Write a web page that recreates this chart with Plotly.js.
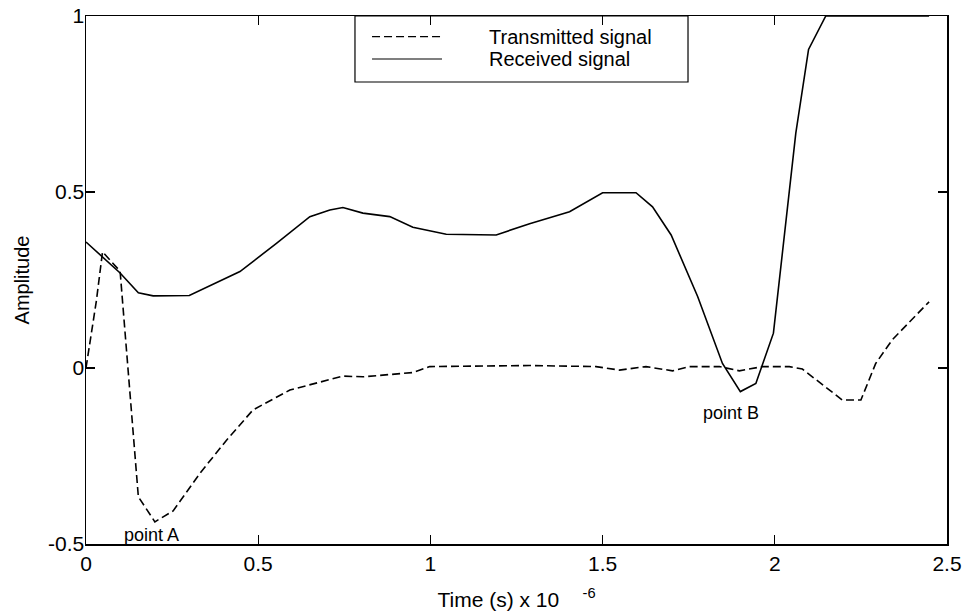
<!DOCTYPE html>
<html>
<head>
<meta charset="utf-8">
<script src="https://cdn.plot.ly/plotly-3.0.1.min.js"></script>
<style>html,body{margin:0;padding:0;background:#fff;}#chart{width:965px;height:614px;}</style>
</head>
<body>
<div id="chart"></div>
<script>
// Time axis values (x 10^-6 s)
var receivedTime = [0, 0.099, 0.152, 0.195, 0.30, 0.447, 0.553, 0.65, 0.708, 0.746, 0.804, 0.882, 0.949, 1.046, 1.191, 1.288, 1.404, 1.50, 1.597, 1.645, 1.699, 1.776, 1.848, 1.90, 1.945, 1.996, 2.061, 2.098, 2.148, 2.448];
var receivedAmp  = [0.358, 0.27, 0.214, 0.205, 0.206, 0.274, 0.354, 0.43, 0.449, 0.456, 0.44, 0.43, 0.40, 0.38, 0.378, 0.41, 0.444, 0.498, 0.498, 0.458, 0.378, 0.203, 0.013, -0.067, -0.044, 0.099, 0.667, 0.905, 1.0, 1.0];

var transmittedTime = [0, 0.03, 0.048, 0.099, 0.152, 0.20, 0.253, 0.331, 0.408, 0.485, 0.592, 0.708, 0.746, 0.804, 0.949, 0.998, 1.288, 1.481, 1.549, 1.626, 1.703, 1.752, 1.839, 1.897, 1.964, 2.042, 2.080, 2.196, 2.25, 2.293, 2.341, 2.448];
var transmittedAmp  = [0.0, 0.19, 0.33, 0.275, -0.366, -0.437, -0.406, -0.299, -0.205, -0.119, -0.0625, -0.034, -0.023, -0.025, -0.013, 0.004, 0.007, 0.004, -0.006, 0.004, -0.008, 0.004, 0.004, -0.008, 0.004, 0.004, -0.003, -0.091, -0.091, 0.013, 0.08, 0.188];

var xTickVals = [0, 0.5, 1, 1.5, 2, 2.5];
var xTickText = ['0', '0.5', '1', '1.5', '2', '2.5'];
var yTickVals = [-0.5, 0, 0.5, 1];
var yTickText = ['-0.5', '0', '0.5', '1'];

var seriesNames = ['Transmitted signal', 'Received signal'];
var noteLabels = ['point A', 'point B'];
var noteTime = [0.19, 1.873];
var noteAmp = [-0.474, -0.128];

var FONT = 'Liberation Sans, Arial, Helvetica, sans-serif';
var DASH = '8px,4px';

var traces = [
  {x: transmittedTime, y: transmittedAmp, name: seriesNames[0], type: 'scatter', mode: 'lines',
   line: {color: '#000', width: 1.6, dash: DASH}},
  {x: receivedTime, y: receivedAmp, name: seriesNames[1], type: 'scatter', mode: 'lines',
   line: {color: '#000', width: 1.6}}
];

var axisCommon = {
  showline: true, linecolor: '#000', linewidth: 1.5, mirror: 'ticks',
  ticks: 'inside', ticklen: 9, tickwidth: 1.2, tickcolor: '#000',
  showgrid: false, zeroline: false,
  tickfont: {family: FONT, size: 21, color: '#000'}
};

// legend geometry (paper coordinates)
var legX0 = 0.3124, legX1 = 0.6992, legY0 = 0.875, legY1 = 1;
var legLineX0 = 0.3322, legLineX1 = 0.4135, legTextX = 0.4657;
var legRowY = [0.9608, 0.9186];

var shapes = [
  {type: 'rect', xref: 'paper', yref: 'paper', x0: legX0, x1: legX1, y0: legY0, y1: legY1,
   line: {color: '#000', width: 1.2}, fillcolor: 'rgba(255,255,255,0)'}
];
var annotations = noteLabels.map(function (t, i) {
  return {x: noteTime[i], y: noteAmp[i], xref: 'x', yref: 'y', text: t, showarrow: false,
    font: {family: FONT, size: 18, color: '#000'}};
});
traces.forEach(function (tr, i) {
  shapes.push({type: 'line', xref: 'paper', yref: 'paper', x0: legLineX0, x1: legLineX1,
    y0: legRowY[i], y1: legRowY[i], line: {color: '#000', width: 1.2, dash: tr.line.dash || 'solid'}});
  annotations.push({xref: 'paper', yref: 'paper', x: legTextX, y: legRowY[i], xanchor: 'left', yanchor: 'middle',
    text: tr.name, showarrow: false, font: {family: FONT, size: 20, color: '#000'}});
});

var layout = {
  width: 965, height: 614,
  margin: {l: 86, r: 18, t: 16, b: 70, pad: 0},
  paper_bgcolor: '#fff', plot_bgcolor: '#fff',
  font: {family: FONT, color: '#000'},
  showlegend: false,
  xaxis: Object.assign({}, axisCommon, {
    range: [0, 2.5], tickmode: 'array', tickvals: xTickVals, ticktext: xTickText,
    title: {text: 'Time (s) x 10\u00A0\u00A0\u00A0\u00A0<sup>-6</sup>', font: {family: FONT, size: 21, color: '#000'}, standoff: 18}
  }),
  yaxis: Object.assign({}, axisCommon, {
    range: [-0.5, 1], tickmode: 'array', tickvals: yTickVals, ticktext: yTickText,
    ticklabelstandoff: -4,
    title: {text: 'Amplitude', font: {family: FONT, size: 20, color: '#000'}, standoff: 13}
  }),
  shapes: shapes,
  annotations: annotations
};

Plotly.newPlot('chart', traces, layout, {staticPlot: true, displayModeBar: false});
</script>
</body>
</html>
